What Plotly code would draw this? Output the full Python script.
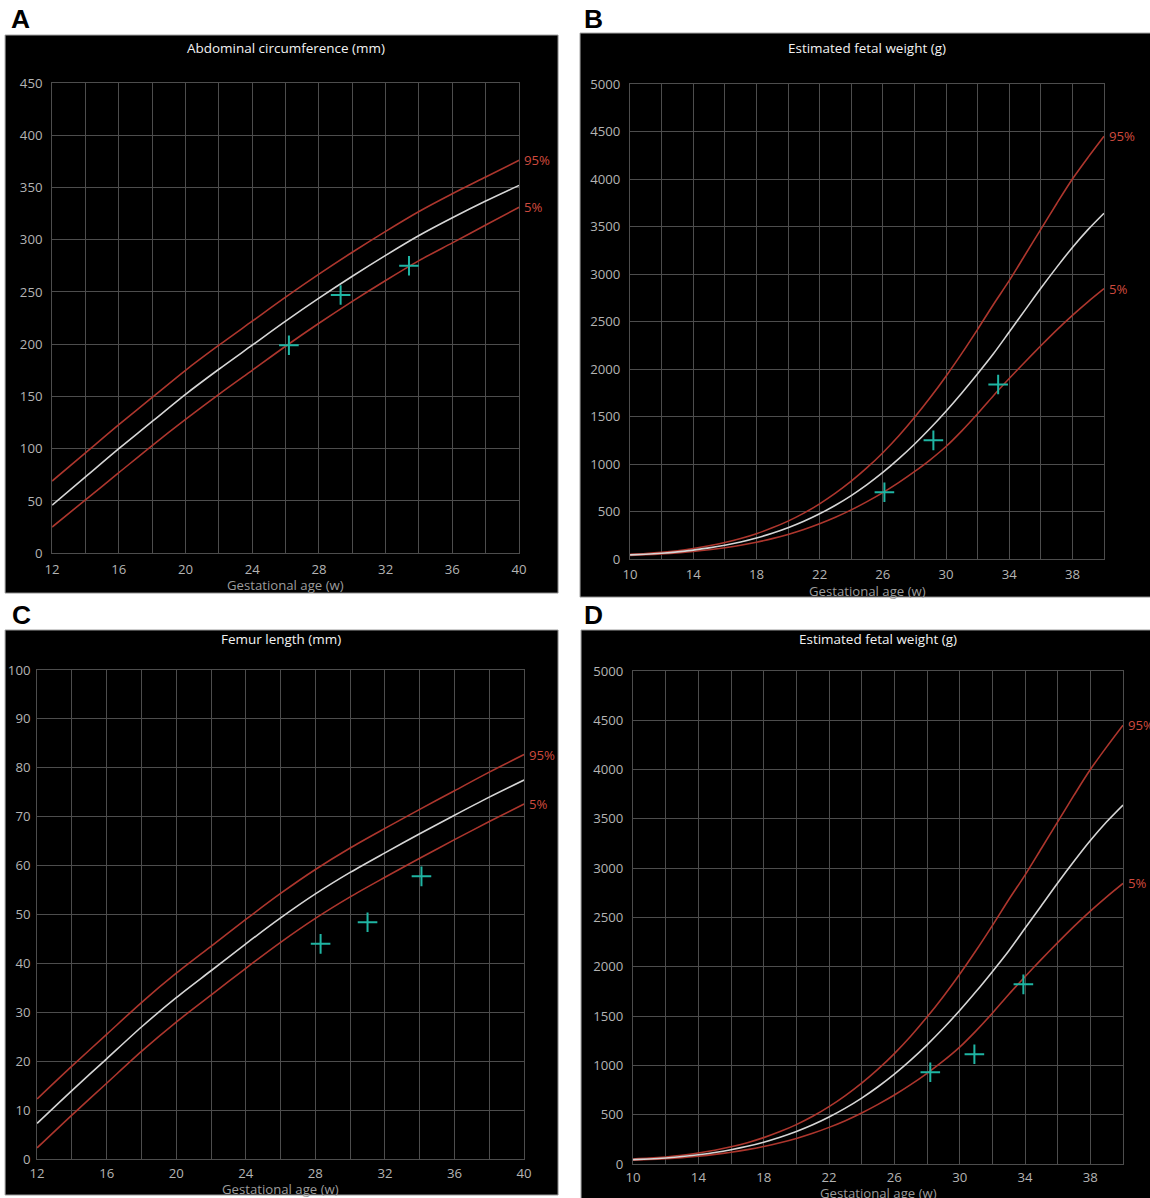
import plotly.graph_objects as go

# ---------------- data ----------------
weeks_ac = [12, 14, 16, 18, 20, 22, 24, 26, 28, 30, 32, 34, 36, 38, 40]
ac_p50 = [46, 73, 100, 126, 152, 176, 199, 222, 244, 265, 285, 304, 321, 337, 352]
ac_p95 = [69, 96, 123, 149, 175, 199, 222, 245, 267, 288, 308, 327, 344, 360, 376]
ac_p5 = [25, 51, 77, 103, 128, 152, 175, 198, 220, 241, 261, 280, 297, 314, 331]
ac_obs_w = [26.2, 29.3, 33.4]
ac_obs = [199, 247, 275]

weeks_efw = list(range(10, 41))
efw_p50 = [45, 52, 62, 76, 95, 118, 146, 180, 222, 272, 330, 398, 477, 567, 669, 784,
           912, 1054, 1209, 1377, 1557, 1749, 1951, 2161, 2390, 2620, 2850, 3070, 3280, 3470, 3640]
efw_p95 = [52, 60, 72, 89, 112, 140, 175, 217, 268, 329, 400, 484, 582, 694, 820, 962,
           1120, 1296, 1490, 1700, 1925, 2165, 2418, 2680, 2930, 3200, 3470, 3740, 4000, 4230, 4450]
efw_p5 = [40, 46, 54, 65, 80, 98, 120, 146, 178, 216, 260, 312, 372, 440, 518, 605,
          700, 805, 920, 1045, 1185, 1350, 1530, 1720, 1900, 2075, 2245, 2410, 2565, 2710, 2846]
efwB_obs_w = [26.1, 29.2, 33.3]
efwB_obs = [704, 1250, 1838]
efwD_obs_w = [28.2, 30.9, 33.9]
efwD_obs = [931, 1113, 1822]

weeks_fl = [12, 14, 16, 18, 20, 22, 24, 26, 28, 30, 32, 34, 36, 38, 40]
fl_p50 = [7.3, 14, 20.5, 27, 33, 38.5, 44, 49.3, 54.2, 58.6, 62.6, 66.5, 70.3, 74, 77.5]
fl_p95 = [12.3, 19, 25.5, 32, 38, 43.5, 49, 54.3, 59.2, 63.6, 67.6, 71.5, 75.3, 79.1, 82.7]
fl_p5 = [2.3, 9, 15.5, 22, 28, 33.5, 39, 44.3, 49.2, 53.6, 57.6, 61.5, 65.3, 69, 72.6]
fl_obs_w = [28.3, 31.0, 34.1]
fl_obs = [44, 48.4, 57.8]

# The page is shown with an 8px body margin and slightly scaled down;
# the figure is sized and positioned so that the photographed result
# lines up with the 1150x1198 target.
OFF = 8
SX = 1166 / 1150
SY = 1214 / 1198
W = 1158
H = 1206
FS = 1.014  # font compensation for the scaling
RED = "#ad362d"
MED = "#d6d6d6"
TEAL = "#1fb5a3"
GRID = "#4d4d4d"
TICK = "#b4b4b4"
FONT = "Open Sans, DejaVu Sans, sans-serif"


def px(x):
    return (x * SX - OFF) / W


def py(y):
    return 1 - (y * SY - OFF) / H


panels = [
    dict(ax="", xd=(52, 519), yd=(82, 553), xr=[12, 40], x0=12, yr=[0, 450], yd_t=50,
         w=weeks_ac, m=ac_p50, hi=ac_p95, lo=ac_p5, ow=ac_obs_w, ov=ac_obs,
         box=(5, 34, 558, 593), title="Abdominal circumference (mm)", ty=47, xt_y=585,
         label="A", lx=20, ly=18, st=4, sty=6),
    dict(ax="2", xd=(630, 1104), yd=(83, 559), xr=[10, 40], x0=10, yr=[0, 5000], yd_t=500,
         w=weeks_efw, m=efw_p50, hi=efw_p95, lo=efw_p5, ow=efwB_obs_w, ov=efwB_obs,
         box=(580, 32, 1160, 597), title="Estimated fetal weight (g)", ty=47, xt_y=591,
         label="B", lx=593, ly=18, st=3, sty=6),
    dict(ax="3", xd=(37, 524), yd=(670, 1160), xr=[12, 40], x0=12, yr=[0, 100], yd_t=10,
         w=weeks_fl, m=fl_p50, hi=fl_p95, lo=fl_p5, ow=fl_obs_w, ov=fl_obs,
         box=(5, 630, 558, 1196), title="Femur length (mm)", ty=639, xt_y=1190,
         label="C", lx=21, ly=615, st=2, sty=3),
    dict(ax="4", xd=(633, 1123), yd=(671, 1165), xr=[10, 40], x0=10, yr=[0, 5000], yd_t=500,
         w=weeks_efw, m=efw_p50, hi=efw_p95, lo=efw_p5, ow=efwD_obs_w, ov=efwD_obs,
         box=(581, 630, 1160, 1212), title="Estimated fetal weight (g)", ty=639, xt_y=1194,
         label="D", lx=593, ly=615, st=1, sty=6),
]

fig = go.Figure()
shapes = []
annotations = []
layout = {}

for p in panels:
    xa = "x" + p["ax"]
    ya = "y" + p["ax"]
    for vals, col in [(p["hi"], RED), (p["lo"], RED), (p["m"], MED)]:
        fig.add_trace(go.Scatter(x=p["w"], y=vals, xaxis=xa, yaxis=ya, mode="lines",
                                 line=dict(color=col, width=1.6, shape="spline",
                                           smoothing=0.8),
                                 showlegend=False, hoverinfo="skip"))
    fig.add_trace(go.Scatter(x=p["ow"], y=p["ov"], xaxis=xa, yaxis=ya, mode="markers",
                             marker=dict(symbol="cross-thin", size=14,
                                         line=dict(color=TEAL, width=2)),
                             showlegend=False))
    xkey = "xaxis" + p["ax"]
    ykey = "yaxis" + p["ax"]
    layout[xkey] = dict(domain=[px(p["xd"][0]), px(p["xd"][1])], anchor=ya,
                        range=p["xr"], tick0=p["x0"], dtick=4, showgrid=True,
                        gridcolor=GRID, gridwidth=1, zeroline=False,
                        showline=True, mirror=True, linecolor=GRID, linewidth=1,
                        ticks="", ticklabelstandoff=p["st"],
                        tickfont=dict(family=FONT, size=13 * FS, color=TICK),
                        minor=dict(tick0=p["x0"], dtick=2, showgrid=True,
                                   gridcolor=GRID, gridwidth=1))
    layout[ykey] = dict(domain=[py(p["yd"][1]), py(p["yd"][0])], anchor=xa,
                        range=p["yr"], tick0=0, dtick=p["yd_t"], showgrid=True,
                        gridcolor=GRID, gridwidth=1, zeroline=False,
                        showline=True, mirror=True, linecolor=GRID, linewidth=1,
                        ticks="", ticklabelstandoff=p["sty"],
                        tickfont=dict(family=FONT, size=13 * FS, color=TICK))
    x0b, y0b, x1b, y1b = p["box"]
    shapes.append(dict(type="rect", xref="paper", yref="paper", layer="below",
                       x0=px(x0b), x1=px(x1b), y0=py(y1b), y1=py(y0b),
                       fillcolor="black", line=dict(color="#9a9a9a", width=1)))
    cx = (p["xd"][0] + p["xd"][1]) / 2
    annotations.append(dict(xref="paper", yref="paper", x=px(cx), y=py(p["ty"]),
                            text=p["title"], showarrow=False, xanchor="center",
                            yanchor="middle",
                            font=dict(family=FONT, size=13.3 * FS, color="#f2f2f2")))
    annotations.append(dict(xref="paper", yref="paper", x=px(cx), y=py(p["xt_y"]),
                            text="Gestational age (w)", showarrow=False,
                            xanchor="center", yanchor="middle",
                            font=dict(family=FONT, size=13 * FS, color="#9c9c9c")))
    annotations.append(dict(xref="paper", yref="paper", x=px(p["lx"]), y=py(p["ly"]),
                            text="<b>" + p["label"] + "</b>", showarrow=False,
                            xanchor="center", yanchor="middle",
                            font=dict(family="Liberation Sans, Arial, sans-serif",
                                      size=26 * FS, color="black")))
    for txt, vals in [("95%", p["hi"]), ("5%", p["lo"])]:
        annotations.append(dict(xref=xa, yref=ya, x=p["w"][-1], y=vals[-1], text=txt,
                                showarrow=False, xanchor="left", yanchor="middle",
                                xshift=3,
                                font=dict(family=FONT, size=13 * FS, color="#cf4a3e")))

fig.update_layout(width=W, height=H, margin=dict(l=0, r=0, t=0, b=0),
                  paper_bgcolor="white", plot_bgcolor="black",
                  shapes=shapes, annotations=annotations, **layout)

fig.write_html("out.html")
